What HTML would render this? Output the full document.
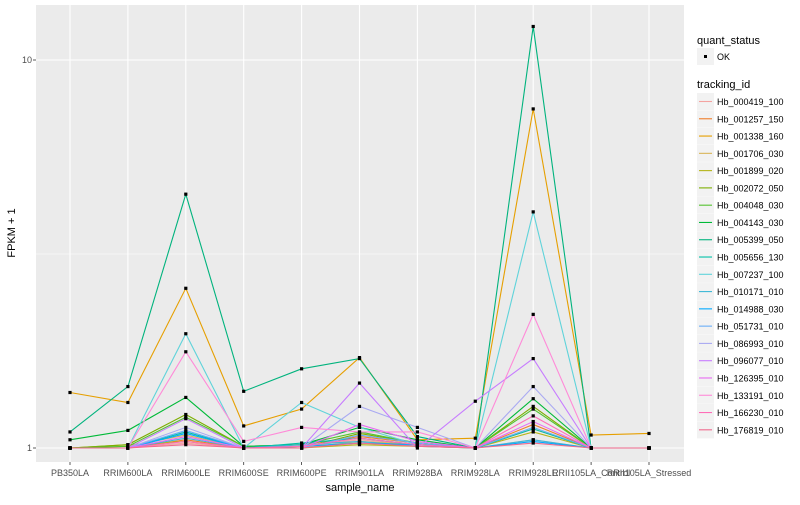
<!DOCTYPE html>
<html><head><meta charset="utf-8"><style>
body{margin:0;background:#fff;font-family:"Liberation Sans",sans-serif}
svg text{font-family:"Liberation Sans",sans-serif}
</style></head><body>
<svg id="chart" width="800" height="500" xmlns="http://www.w3.org/2000/svg">
<rect x="0" y="0" width="800" height="500" fill="#fff"/>
<rect x="36" y="5" width="648" height="457" fill="#ebebeb"/>
<g id="grid"></g><g id="series"></g><g id="axes"></g><g id="legend"></g>
<text x="360" y="491" font-size="11" text-anchor="middle" fill="#000">sample_name</text>
<text transform="translate(15,233) rotate(-90)" font-size="11" text-anchor="middle" fill="#000">FPKM + 1</text>
</svg>
<script>
const categories=["PB350LA","RRIM600LA","RRIM600LE","RRIM600SE","RRIM600PE","RRIM901LA","RRIM928BA","RRIM928LA","RRIM928LE","RRII105LA_Control","RRII105LA_Stressed"];
const seriesNames=["Hb_000419_100","Hb_001257_150","Hb_001338_160","Hb_001706_030","Hb_001899_020","Hb_002072_050","Hb_004048_030","Hb_004143_030","Hb_005399_050","Hb_005656_130","Hb_007237_100","Hb_010171_010","Hb_014988_030","Hb_051731_010","Hb_086993_010","Hb_096077_010","Hb_126395_010","Hb_133191_010","Hb_166230_010","Hb_176819_010"];
const seriesColors=["#F4A3A0","#F07E2A","#E69F00","#D9B65A","#B5B51A","#7CAE00","#53C22E","#00BA38","#00B37D","#00C0A8","#5FD3DA","#3DB8D6","#00A9FF","#6AAEF7","#A9A9F2","#C77CFF","#E76BF3","#FF8AD8","#FF6EB8","#F06A8E"];
const s00=[1,1,1.03,1,1.01,1.05,1.02,1,1.05,1,1];
const s01=[1,1,1.05,1,1.02,1.07,1.03,1,1.15,1,1];
const s02=[1.39,1.31,2.58,1.14,1.26,1.71,1.05,1.06,7.48,1.08,1.09];
const s03=[1,1.01,1.08,1,1,1.04,1.02,1,1.12,1,1];
const s04=[1,1.02,1.04,1,1,1.02,1.01,1,1.10,1,1];
const s05=[1,1.02,1.22,1.01,1,1.09,1.03,1,1.28,1,1];
const s06=[1,1.01,1.20,1.01,1.02,1.10,1.03,1,1.26,1,1];
const s07=[1.05,1.11,1.35,1.01,1.02,1.13,1.05,1,1.34,1,1];
const s08=[1.10,1.44,4.51,1.40,1.60,1.70,1.07,1,12.2,1,1];
const s09=[1,1,1.10,1,1.03,1.06,1.02,1,1.12,1,1];
const s10=[1,1,1.97,1,1.31,1.13,1.02,1,4.06,1,1];
const s11=[1,1,1.06,1,1.02,1.04,1.01,1,1.05,1,1];
const s12=[1,1,1.09,1,1.01,1.03,1.02,1,1.04,1,1];
const s13=[1,1,1.11,1,1,1.08,1.03,1,1.13,1,1];
const s14=[1,1,1.13,1,1,1.28,1.13,1,1.44,1,1];
const s15=[1,1,1.19,1,1,1.47,1,1.32,1.70,1,1];
const s16=[1,1,1.07,1,1,1.15,1.04,1,1.17,1,1];
const s17=[1,1,1.77,1.04,1.13,1.10,1.10,1,2.21,1,1];
const s18=[1,1,1.04,1,1.01,1.06,1.02,1,1.21,1,1];
const s19=[1,1,1.02,1,1,1.03,1.01,1,1.03,1,1];
const seriesValues=[s00,s01,s02,s03,s04,s05,s06,s07,s08,s09,s10,s11,s12,s13,s14,s15,s16,s17,s18,s19];
const yTicks=[1,10];
const yTickLabels=["1","10"];
const yMinor=[Math.sqrt(10)];

const NS="http://www.w3.org/2000/svg";
function xScale(i){return 70+57.9*i;}
function yScale(v){return 448-388*Math.log10(v);}
function mk(parent,tag,attrs){const e=document.createElementNS(NS,tag);for(const k in attrs)e.setAttribute(k,attrs[k]);parent.appendChild(e);return e;}
const grid=document.getElementById('grid'),ser=document.getElementById('series'),axes=document.getElementById('axes'),leg=document.getElementById('legend');
yMinor.forEach(v=>{const l=mk(grid,'line',{x1:36,x2:684,y1:yScale(v),y2:yScale(v),stroke:'#fff','stroke-width':0.5});

});
yTicks.forEach((v,i)=>{const l=mk(grid,'line',{x1:36,x2:684,y1:yScale(v),y2:yScale(v),stroke:'#fff','stroke-width':1.1});


const t=mk(axes,'text',{x:32,y:yScale(v)+3,'font-size':9,'text-anchor':'end',fill:'#4d4d4d'});t.textContent=yTickLabels[i];


mk(axes,'line',{x1:33,x2:36,y1:yScale(v),y2:yScale(v),stroke:'#333','stroke-width':0.8});});
categories.forEach((c,i)=>{const l=mk(grid,'line',{x1:xScale(i),x2:xScale(i),y1:5,y2:462,stroke:'#fff','stroke-width':1.1});


mk(axes,'line',{x1:xScale(i),x2:xScale(i),y1:462,y2:465,stroke:'#333','stroke-width':0.8});
const t=mk(axes,'text',{x:xScale(i),y:476,'font-size':9,'text-anchor':'middle',fill:'#4d4d4d'});t.textContent=c;

});
seriesValues.forEach((vals,s)=>{const pts=vals.map((v,i)=>xScale(i)+','+yScale(v)).join(' ');
const p=mk(ser,'polyline',{points:pts,fill:'none',stroke:seriesColors[s],'stroke-width':1.1});

});
seriesValues.forEach((vals,s)=>{vals.forEach((v,i)=>{const r=mk(ser,'rect',{x:xScale(i)-1.6,y:yScale(v)-1.6,width:3.2,height:3.2,fill:'#000'});

});});
// legend
let t=mk(leg,'text',{x:697,y:44,'font-size':11,fill:'#000'});t.textContent='quant_status';


mk(leg,'rect',{x:697,y:48,width:17,height:17,fill:'#f2f2f2'});
mk(leg,'rect',{x:704,y:55,width:3,height:3,fill:'#000'});
t=mk(leg,'text',{x:717,y:60,'font-size':9,fill:'#000'});t.textContent='OK';


t=mk(leg,'text',{x:697,y:88,'font-size':11,fill:'#000'});t.textContent='tracking_id';


seriesNames.forEach((n,s)=>{const y=93+17.28*s;
mk(leg,'rect',{x:697,y:y,width:17,height:17,fill:'#f2f2f2'});
mk(leg,'line',{x1:699,x2:712,y1:y+8.5,y2:y+8.5,stroke:seriesColors[s],'stroke-width':1.1});
const tt=mk(leg,'text',{x:717,y:y+12,'font-size':9,fill:'#000'});tt.textContent=n;

});
</script>
</body></html>
